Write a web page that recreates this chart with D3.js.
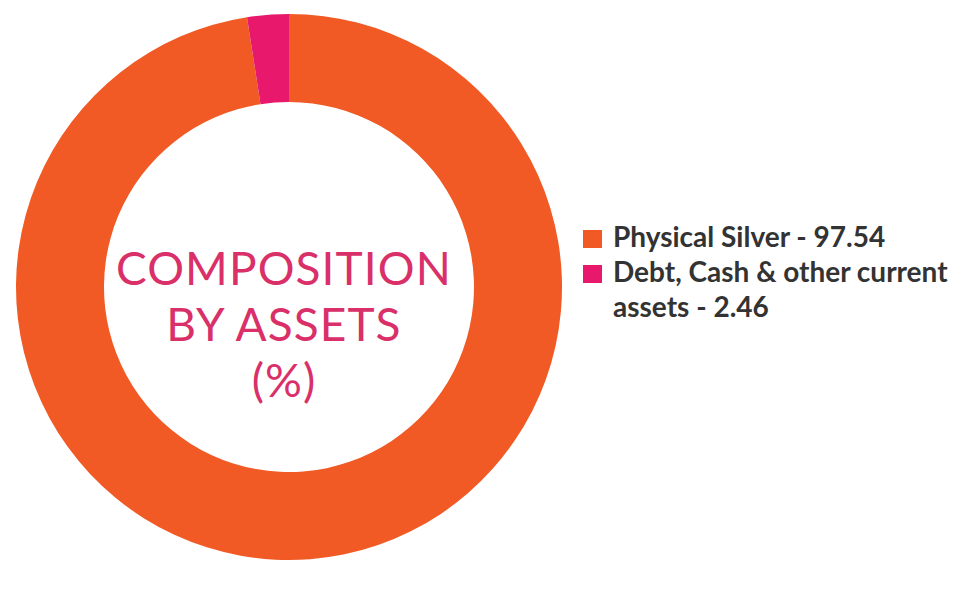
<!DOCTYPE html>
<html><head><meta charset="utf-8">
<script src="https://cdn.jsdelivr.net/npm/d3@7"></script>
<style>html,body{margin:0;padding:0;background:#fff;}</style>
</head><body>
<svg id="chart" width="963" height="591"></svg>
<script>
const categories = ["Physical Silver", "Debt, Cash & other current assets"];
const values = [97.54, 2.46];
const colors = ["#F15A24", "#E8186C"];
const legendLines = [["Physical Silver - 97.54"], ["Debt, Cash & other current", "assets - 2.46"]];
const centerLines = ["COMPOSITION", "BY ASSETS", "(%)"];

const svg = d3.select("#chart");
const cx = 289, cy = 287, rOuter = 273, rInner = 185;
const pie = d3.pie().sort(null).value(d => d)(values);
const arc = d3.arc().innerRadius(rInner).outerRadius(rOuter);
const color = d3.scaleOrdinal().domain(categories).range(colors);
const g = svg.append("g").attr("transform", `translate(${cx},${cy})`);
g.selectAll("path").data(pie).join("path")
  .attr("d", arc).attr("fill", (d, i) => color(categories[i]));

g.selectAll("text.center").data(centerLines).join("text")
  .attr("class", "center")
  .attr("x", -5).attr("y", (d, i) => -2 + i * 56)
  .attr("text-anchor", "middle")
  .attr("font-family", "Lato").attr("font-size", 46)
  .attr("letter-spacing", 1.1)
  .attr("fill", "#D93069").text(d => d);

const leg = svg.append("g").attr("transform", "translate(583,230)");
categories.forEach((c, i) => {
  const y0 = i * 35;
  leg.append("rect").attr("x", 0).attr("y", y0).attr("width", 19).attr("height", 18).attr("fill", color(c));
  legendLines[i].forEach((t, j) => {
    leg.append("text").attr("x", 30).attr("y", y0 + 17 + j * 35)
      .attr("font-family", "Lato").attr("font-weight", "bold").attr("font-size", 28)
      .attr("fill", "#333333").text(t);
  });
});
</script>
</body></html>
